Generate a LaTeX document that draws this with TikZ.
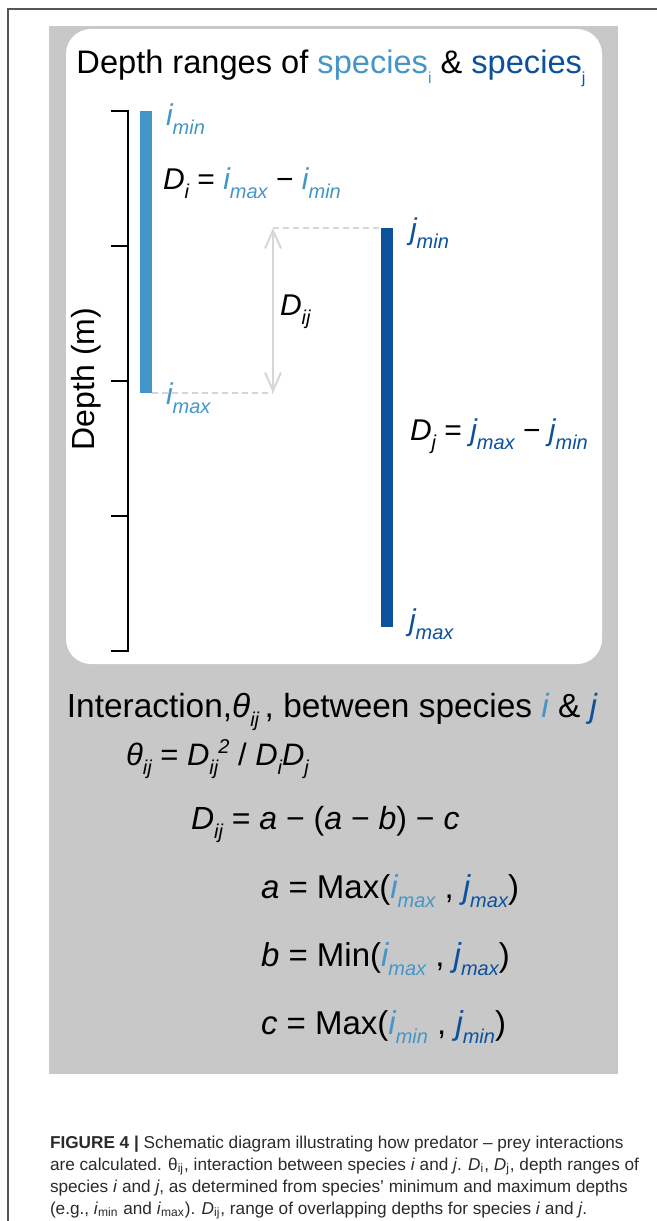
\documentclass[tikz,border=0pt]{standalone}
\usepackage{fontspec}
\setmainfont{Liberation Sans}
\usetikzlibrary{arrows.meta}
\definecolor{spi}{HTML}{4596C8}
\definecolor{spj}{HTML}{0B519C}
\definecolor{panel}{HTML}{C8C8C8}
\definecolor{guide}{HTML}{D6D6D6}
\definecolor{frameline}{HTML}{555555}
\definecolor{captext}{HTML}{2A2A2A}
% lowered / raised small text: #1 shift, #2 size, #3 text
\newcommand{\shifttxt}[3]{\raisebox{#1}{\fontsize{#2}{#2}\selectfont #3}}
\newcommand{\lsub}[1]{\shifttxt{-4.5pt}{10}{#1}}
\newcommand{\bsub}[1]{\shifttxt{-4.5pt}{10}{#1}}
\begin{document}
\begin{tikzpicture}[x=0.5pt,y=-0.5pt,
  every node/.style={inner sep=0pt,outer sep=0pt},
  lbl/.style={anchor=base west,font=\fontsize{15}{17}\selectfont},
  eqn/.style={anchor=base west,font=\fontsize{16.5}{19}\selectfont},
  capline/.style={anchor=base west,text=captext,font=\fontsize{8.6}{11}\selectfont},
  tick/.style={line width=1pt,black},
  guideline/.style={guide,line width=0.8pt,dash pattern=on 3pt off 2pt},
  overlap/.style={guide,line width=1pt,{Straight Barb[length=9pt,width=8pt]}-{Straight Barb[length=9pt,width=8pt]}}]
\useasboundingbox (0,0) rectangle (657,1221);
% panels
\fill[panel] (49,26) rectangle (618,1074);
\fill[white,rounded corners=12.5pt] (66,29) rectangle (602,664);
\draw[frameline,line width=0.8pt] (8,1221) -- (8,9) -- (657,9);
% title
\node[anchor=base,font=\fontsize{16.3}{19}\selectfont] (title) at (331,73)
  {Depth ranges of \textcolor{spi}{species\shifttxt{-5pt}{8}{i}} \& \textcolor{spj}{species\shifttxt{-5pt}{8}{j}}};
% axis
\draw[tick] (111,111) -- (128,111) -- (128,651) -- (111,651);
\foreach \t in {246,381,516} \draw[tick] (111,\t) -- (128,\t);
\node[rotate=90,font=\fontsize{16}{18}\selectfont] (ylab) at (86,379) {Depth (m)};
% bars
\fill[spi] (140,111) rectangle (152,393);
\fill[spj] (381,228) rectangle (393,627);
\coordinate (imaxpt) at (152,393);
\coordinate (ovbot) at (273,393);
\coordinate (ovtop) at (273,228);
\coordinate (jminpt) at (381,228);
\draw[guideline] (imaxpt) -- (ovbot);
\draw[guideline] (ovtop) -- (jminpt);
\draw[overlap] (ovtop) -- (ovbot);
% labels
\node[lbl,text=spi] (imin) at (166,125) {\itshape i\lsub{min}};
\node[lbl] (Di) at (163,189) {\itshape D\lsub{i} \upshape= \textcolor{spi}{\itshape i\lsub{max}} \upshape− \textcolor{spi}{\itshape i\lsub{min}}};
\node[lbl,text=spi] (imax) at (166,404) {\itshape i\lsub{max}};
\node[lbl] (Dij) at (280,315) {\itshape D\lsub{ij}};
\node[lbl,text=spj] (jmin) at (410,239) {\itshape j\lsub{min}};
\node[lbl] (Dj) at (410,440) {\itshape D\lsub{j} \upshape= \textcolor{spj}{\itshape j\lsub{max}} \upshape− \textcolor{spj}{\itshape j\lsub{min}}};
\node[lbl,text=spj] (jmax) at (409,630) {\itshape j\lsub{max}};
% lower panel
\node[anchor=base,font=\fontsize{16.7}{19}\selectfont] (inter) at (332,717)
  {Interaction,{\itshape θ\bsub{ij}}\,, between species {\itshape\textcolor{spi}{i}} \& {\itshape\textcolor{spj}{j}}};
\node[eqn,font=\fontsize{15.5}{18}\selectfont] (theta) at (126,765)
  {\itshape θ\bsub{ij} \upshape= \itshape D\bsub{ij}\shifttxt{6pt}{10}{2} \upshape/ \itshape D\bsub{i}D\bsub{j}};
\node[eqn,font=\fontsize{16}{19}\selectfont] (Dijeq) at (191,829)
  {\itshape D\bsub{ij} \upshape= \itshape a \upshape− (\itshape a \upshape− \itshape b\upshape) − \itshape c};
\node[eqn] (aeq) at (261,898)
  {\itshape a \upshape= Max(\textcolor{spi}{\itshape i\bsub{max}} , \textcolor{spj}{\itshape j\bsub{max}})};
\node[eqn] (beq) at (261,966)
  {\itshape b \upshape= Min(\textcolor{spi}{\itshape i\bsub{max}} , \textcolor{spj}{\itshape j\bsub{max}})};
\node[eqn] (ceq) at (261,1034)
  {\itshape c \upshape= Max(\textcolor{spi}{\itshape i\bsub{min}} , \textcolor{spj}{\itshape j\bsub{min}})};
% caption
\node[capline] (cap1) at (50,1148)
  {\textbf{FIGURE 4 |} Schematic diagram illustrating how predator – prey interactions};
\node[capline] (cap2) at (50,1170)
  {are calculated. θ\textsubscript{ij}, interaction between species \textit{i} and \textit{j}. \textit{D}\textsubscript{i}, \textit{D}\textsubscript{j}, depth ranges of};
\node[capline] (cap3) at (50,1192)
  {species \textit{i} and \textit{j}, as determined from species’ minimum and maximum depths};
\node[capline] (cap4) at (50,1214)
  {(e.g., \textit{i}\textsubscript{min} and \textit{i}\textsubscript{max}). \textit{D}\textsubscript{ij}, range of overlapping depths for species \textit{i} and \textit{j}.};
\end{tikzpicture}
\end{document}
